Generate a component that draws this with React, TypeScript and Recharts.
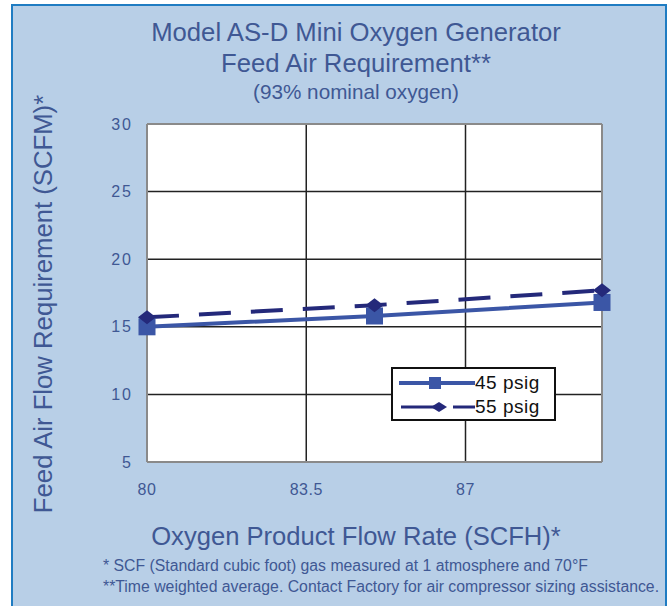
import { LineChart, Line, XAxis, YAxis, CartesianGrid, ReferenceLine, Legend } from "recharts";

// Oxygen product flow (SCFH) vs feed air requirement (SCFM)
const flowRates = [80, 85, 90];
const psig45 = [15.0, 15.8, 16.8];
const psig55 = [15.7, 16.6, 17.7];
const xTicks = [80, 83.5, 87];
const yTicks = [5, 10, 15, 20, 25, 30];

const data = flowRates.map((x, i) => ({ x, p45: psig45[i], p55: psig55[i] }));

const TEXT = "#3f5894";
const C45 = "#3b56a6";
const C55 = "#24297a";
const FONT = "'Liberation Sans', Arial, sans-serif";

function SquareDot(props: any) {
  const { cx, cy } = props;
  if (cx == null || cy == null) return null;
  return <rect x={cx - 8.5} y={cy - 8.5} width={17} height={17} fill={C45} />;
}

function DiamondDot(props: any) {
  const { cx, cy } = props;
  if (cx == null || cy == null) return null;
  return <polygon points={`${cx - 9},${cy} ${cx},${cy - 7} ${cx + 9},${cy} ${cx},${cy + 7}`} fill={C55} />;
}

function LegendBox() {
  return (
    <div style={{ width: 161, height: 50, background: "#fff", border: "2px solid #111", fontFamily: FONT, fontSize: 19, color: "#111" }}>
      <div style={{ display: "flex", alignItems: "center", height: 24, marginTop: 2 }}>
        <svg width={82} height={20}>
          <line x1={6} y1={10} x2={82} y2={10} stroke={C45} strokeWidth={4} />
          <rect x={36} y={4} width={12} height={12} fill={C45} />
        </svg>
        <span style={{ letterSpacing: 0.5 }}>45 psig</span>
      </div>
      <div style={{ display: "flex", alignItems: "center", height: 24 }}>
        <svg width={82} height={20}>
          <line x1={8} y1={10} x2={44} y2={10} stroke={C55} strokeWidth={3} />
          <line x1={60} y1={10} x2={82} y2={10} stroke={C55} strokeWidth={3} />
          <polygon points="38,10 46,5 54,10 46,15" fill={C55} />
        </svg>
        <span style={{ letterSpacing: 0.5 }}>55 psig</span>
      </div>
    </div>
  );
}

function Txt({ cx, cy, size, children, color = TEXT, left }: any) {
  return (
    <div
      style={{
        position: "absolute",
        left: left ?? cx,
        top: cy,
        transform: left != null ? "translateY(-50%)" : "translate(-50%,-50%)",
        fontFamily: FONT,
        fontSize: size,
        color,
        whiteSpace: "nowrap",
        lineHeight: 1,
      }}
    >
      {children}
    </div>
  );
}

export default function App() {
  return (
    <div style={{ position: "absolute", left: 0, top: 0, width: 670, height: 606, overflow: "hidden", background: "#fff" }}>
      <div style={{ position: "absolute", left: 11, top: 4, width: 652, height: 640, background: "#b8cfe7", border: "2px solid #1f7cc2" }} />
      <div style={{ position: "absolute", left: 0, top: 0 }}>
        <LineChart width={670} height={606} data={data} margin={{ top: 124, right: 68, bottom: 114, left: 107 }}>
          <CartesianGrid stroke="#222" strokeWidth={1.5} fill="#fff" />
          <XAxis
            dataKey="x"
            type="number"
            domain={[80, 90]}
            ticks={xTicks}
            height={30}
            tickLine={false}
            tickSize={6}
            tickMargin={16}
            axisLine={{ stroke: "#8a8a8a", strokeWidth: 2 }}
            tick={{ fill: TEXT, fontSize: 16, fontFamily: FONT, letterSpacing: 0.5 }}
          />
          <YAxis
            type="number"
            domain={[5, 30]}
            ticks={yTicks}
            width={40}
            tickLine={false}
            tickSize={6}
            tickMargin={8}
            axisLine={{ stroke: "#8a8a8a", strokeWidth: 2 }}
            tick={{ fill: TEXT, fontSize: 16, fontFamily: FONT, letterSpacing: 2 }}
          />
          <ReferenceLine y={30} stroke="#8a8a8a" strokeWidth={2} />
          <ReferenceLine x={90} stroke="#8a8a8a" strokeWidth={2} />
          <Legend
            layout="vertical"
            align="center"
            verticalAlign="middle"
            content={() => <LegendBox />}
            wrapperStyle={{ left: 391, top: 367, width: 165, height: 54 }}
          />
          <Line
            dataKey="p45"
            name="45 psig"
            stroke={C45}
            strokeWidth={4}
            dot={<SquareDot />}
            activeDot={false}
            isAnimationActive={false}
          />
          <Line
            dataKey="p55"
            name="55 psig"
            stroke={C55}
            strokeWidth={4}
            strokeDasharray="32 20"
            dot={<DiamondDot />}
            activeDot={false}
            isAnimationActive={false}
          />
        </LineChart>
      </div>
      <Txt cx={356} cy={33} size={25.7}>Model AS-D Mini Oxygen Generator</Txt>
      <Txt cx={356} cy={64} size={25.7}>Feed Air Requirement**</Txt>
      <Txt cx={356} cy={92} size={20.7}>(93% nominal oxygen)</Txt>
      <Txt cx={356} cy={537} size={25.6}>Oxygen Product Flow Rate (SCFH)*</Txt>
      <Txt left={103} cy={566} size={15.8}>* SCF (Standard cubic foot) gas measured at 1 atmosphere and 70°F</Txt>
      <Txt left={103} cy={587} size={15.8}>**Time weighted average. Contact Factory for air compressor sizing assistance.</Txt>
      <div
        style={{
          position: "absolute",
          left: 44,
          top: 304,
          transform: "translate(-50%,-50%) rotate(-90deg)",
          fontFamily: FONT,
          fontSize: 25.7,
          color: TEXT,
          whiteSpace: "nowrap",
          lineHeight: 1,
        }}
      >
        Feed Air Flow Requirement (SCFM)*
      </div>
    </div>
  );
}
